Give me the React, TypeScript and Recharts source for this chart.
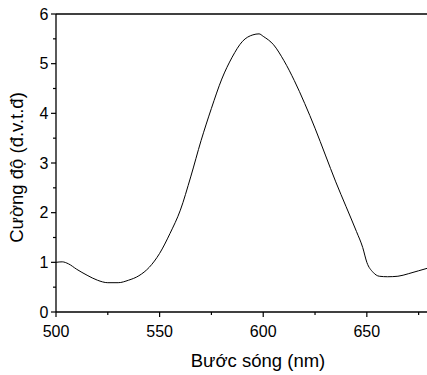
import React from 'react';
import { LineChart, Line, XAxis, YAxis, ReferenceLine } from 'recharts';

const wavelengths = [500, 503, 506, 510, 515, 520, 525, 530, 535, 540, 545, 550, 555, 560, 565, 570, 575, 580, 585, 590, 595, 598, 600, 605, 610, 615, 620, 625, 630, 635, 640, 645, 648, 650, 653, 656, 660, 665, 670, 675, 680];
const intensities = [1.0, 1.01, 0.97, 0.86, 0.74, 0.64, 0.59, 0.59, 0.64, 0.73, 0.9, 1.18, 1.58, 2.05, 2.72, 3.45, 4.1, 4.69, 5.13, 5.45, 5.58, 5.6, 5.55, 5.38, 5.06, 4.66, 4.2, 3.7, 3.16, 2.62, 2.12, 1.62, 1.3, 1.0, 0.8, 0.72, 0.71, 0.72, 0.77, 0.83, 0.89];
const xTicks = [500, 525, 550, 575, 600, 625, 650, 675];
const xLabeled = [500, 550, 600, 650];
const yTicks = [0, 0.5, 1, 1.5, 2, 2.5, 3, 3.5, 4, 4.5, 5, 5.5, 6];
const yLabeled = [0, 1, 2, 3, 4, 5, 6];
const xTitle = 'Bước sóng (nm)';
const yTitle = 'Cường độ (đ.v.t.đ)';

const data = wavelengths.map((w, i) => ({ w, v: intensities[i] }));

const FONT = '"Liberation Sans", Arial, sans-serif';

const XTick = (props: any) => {
  const { x, y, payload } = props;
  const major = xLabeled.includes(payload.value);
  return (
    <g>
      <line x1={x} x2={x} y1={y} y2={y + (major ? 5 : 3)} stroke="#000" strokeWidth={1.2} />
      {major && (
        <text x={x} y={y + 24.7} textAnchor="middle" fontSize={16} fontFamily={FONT} fill="#000">
          {payload.value}
        </text>
      )}
    </g>
  );
};

const YTick = (props: any) => {
  const { x, y, payload } = props;
  const major = yLabeled.includes(payload.value);
  return (
    <g>
      <line x1={x - (major ? 5 : 3)} x2={x} y1={y} y2={y} stroke="#000" strokeWidth={1.2} />
      {major && (
        <text x={x - 7.5} y={y + 5.5} textAnchor="end" fontSize={16} fontFamily={FONT} fill="#000">
          {payload.value}
        </text>
      )}
    </g>
  );
};

export default function App() {
  return (
    <div style={{ position: 'absolute', left: 0, top: 0, width: 427, height: 375, overflow: 'hidden', background: '#fff' }}>
      <LineChart width={430} height={375} data={data} margin={{ top: 14, right: 1, bottom: 0, left: 0 }}>
        <XAxis
          dataKey="w"
          type="number"
          domain={[500, 680]}
          ticks={xTicks}
          allowDataOverflow
          tickLine={false}
          tickSize={0}
          tickMargin={0}
          height={63}
          tick={<XTick />}
          axisLine={{ stroke: '#000', strokeWidth: 1.3 }}
          interval={0}
          label={{
            content: () => (
              <text x={258} y={366.7} textAnchor="middle" fontSize={18.5} fontFamily={FONT} fill="#000">
                {xTitle}
              </text>
            ),
          }}
        />
        <YAxis
          type="number"
          domain={[0, 6]}
          ticks={yTicks}
          allowDataOverflow
          tickLine={false}
          tickSize={0}
          tickMargin={0}
          width={56}
          tick={<YTick />}
          axisLine={{ stroke: '#000', strokeWidth: 1.3 }}
          interval={0}
          label={{
            content: () => (
              <text
                x={22.7}
                y={167.5}
                transform="rotate(-90, 22.7, 167.5)"
                textAnchor="middle"
                fontSize={18.5}
                fontFamily={FONT}
                fill="#000"
              >
                {yTitle}
              </text>
            ),
          }}
        />
        <ReferenceLine y={6} stroke="#000" strokeWidth={1.3} />
        <Line type="monotone" dataKey="v" stroke="#000" strokeWidth={1} dot={false} isAnimationActive={false} />
      </LineChart>
    </div>
  );
}
